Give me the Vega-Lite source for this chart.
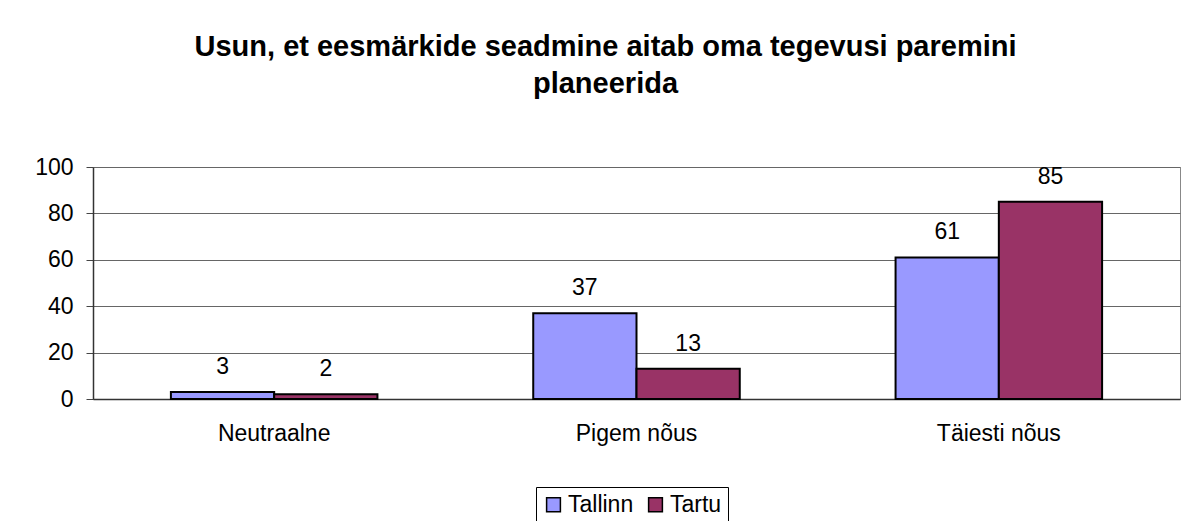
{
  "$schema": "https://vega.github.io/schema/vega-lite/v6.json",
  "autosize": "none",
  "width": 1087,
  "height": 232,
  "padding": {"left": 93, "top": 167, "right": 6, "bottom": 122},
  "background": "white",
  "title": {
    "text": ["Usun, et eesmärkide seadmine aitab oma tegevusi paremini", "planeerida"],
    "font": "Liberation Sans",
    "fontSize": 29,
    "fontWeight": "bold",
    "color": "black",
    "anchor": "middle",
    "lineHeight": 37,
    "dx": -31,
    "offset": 57
  },
  "data": {
    "values": [
      {"kategooria": "Neutraalne", "linn": "Tallinn", "vaartus": 3},
      {"kategooria": "Neutraalne", "linn": "Tartu", "vaartus": 2},
      {"kategooria": "Pigem nõus", "linn": "Tallinn", "vaartus": 37},
      {"kategooria": "Pigem nõus", "linn": "Tartu", "vaartus": 13},
      {"kategooria": "Täiesti nõus", "linn": "Tallinn", "vaartus": 61},
      {"kategooria": "Täiesti nõus", "linn": "Tartu", "vaartus": 85}
    ]
  },
  "encoding": {
    "x": {
      "field": "kategooria",
      "type": "nominal",
      "sort": ["Neutraalne", "Pigem nõus", "Täiesti nõus"],
      "scale": {"paddingInner": 0.43, "paddingOuter": 0.215},
      "axis": {
        "title": null,
        "labelAngle": 0,
        "labelFont": "Liberation Sans",
        "labelFontSize": 23,
        "labelColor": "black",
        "labelPadding": 23,
        "ticks": false,
        "domainColor": "#333333",
        "domainWidth": 1.5
      }
    },
    "xOffset": {"field": "linn", "type": "nominal", "scale": {"paddingInner": 0, "paddingOuter": 0}},
    "y": {
      "field": "vaartus",
      "type": "quantitative",
      "scale": {"domain": [0, 100], "nice": false},
      "axis": {
        "title": null,
        "values": [0, 20, 40, 60, 80, 100],
        "labelFont": "Liberation Sans",
        "labelFontSize": 23,
        "labelColor": "black",
        "labelPadding": 13,
        "tickSize": 7,
        "tickColor": "#444444",
        "domainColor": "#333333",
        "domainWidth": 1.5,
        "gridColor": "#666666",
        "gridWidth": 1
      }
    }
  },
  "layer": [
    {
      "mark": {"type": "bar", "stroke": "black", "strokeWidth": 2},
      "encoding": {
        "color": {
          "field": "linn",
          "type": "nominal",
          "scale": {"domain": ["Tallinn", "Tartu"], "range": ["#9999FF", "#993366"]},
          "legend": {
            "title": null,
            "orient": "none",
            "legendX": 443,
            "legendY": 320,
            "direction": "horizontal",
            "symbolType": "square",
            "symbolSize": 190,
            "symbolStrokeColor": "black",
            "symbolStrokeWidth": 1.5,
            "labelFont": "Liberation Sans",
            "labelFontSize": 23,
            "labelColor": "black",
            "labelOffset": 3,
            "columnPadding": 10,
            "strokeColor": "black",
            "padding": 6
          }
        }
      }
    },
    {
      "mark": {"type": "text", "baseline": "alphabetic", "dy": -18, "font": "Liberation Sans", "fontSize": 23, "color": "black"},
      "encoding": {"text": {"field": "vaartus", "type": "quantitative"}}
    }
  ],
  "config": {
    "view": {"stroke": "#888888", "strokeWidth": 1}
  }
}
